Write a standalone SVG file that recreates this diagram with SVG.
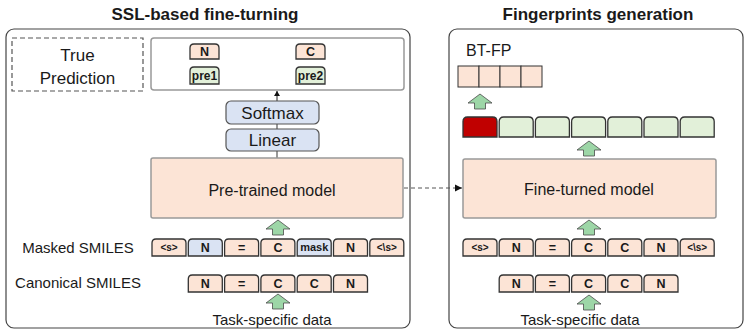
<svg xmlns="http://www.w3.org/2000/svg" width="745" height="331" viewBox="0 0 745 331">
<style>
text{font-family:"Liberation Sans",Arial,sans-serif;fill:#1a1a1a}
.title{font-size:17px;font-weight:bold;text-anchor:middle}
.lbl{font-size:15px;text-anchor:middle}
.big{font-size:17px;text-anchor:middle}
.mdl{font-size:16px;text-anchor:middle}
.tk{font-size:12.5px;font-weight:bold;text-anchor:middle}
.tks{font-size:10px;font-weight:bold;text-anchor:middle}
.outer{fill:#fff;stroke:#444;stroke-width:1.2}
.gbox{fill:#fff;stroke:#999;stroke-width:1.5}
.model{fill:#fce4d6;stroke:#999;stroke-width:1.5}
.blue{fill:#dae3f3;stroke:#555;stroke-width:1.2}
.tok{stroke:#333;stroke-width:1.3}
.pe{fill:#fce4d6}
.bl{fill:#dae3f3}
.gr{fill:#e2f0d9}
.rd{fill:#c00000}
.garrow{fill:#9dd6a7;stroke:#4a4a4a;stroke-width:0.8}
</style>
<defs>
<path id="t34" d="M0,17 V4 Q0,0 4,0 H30 Q34,0 34,4 V17 Z"/>
<path id="t34h" d="M0,20 V4.5 Q0,0 4.5,0 H29.5 Q34,0 34,4.5 V20 Z"/>
<path id="ga" d="M0,0 L12,9 L5.5,9 L5.5,15 L-5.5,15 L-5.5,9 L-12,9 Z"/>
<marker id="ah" markerWidth="8" markerHeight="8" refX="7" refY="4" orient="auto" markerUnits="userSpaceOnUse">
<path d="M0,0.5 L7,4 L0,7.5 Z" fill="#111"/>
</marker>
<marker id="ahs" markerWidth="6" markerHeight="6" refX="5" refY="3" orient="auto" markerUnits="userSpaceOnUse">
<path d="M0,0 L5,3 L0,6 Z" fill="#111"/>
</marker>
</defs>

<text class="title" x="205" y="20">SSL-based fine-turning</text>
<text class="title" x="598" y="20">Fingerprints generation</text>

<g id="left-panel">
<rect class="outer" x="6" y="29" width="404" height="299" rx="8"/>
</g>
<g id="right-panel">
<rect class="outer" x="449" y="29" width="294" height="299" rx="8"/>
</g>

<g id="connectors">
<line x1="277" y1="101" x2="277" y2="91" stroke="#222" stroke-width="1" marker-end="url(#ahs)"/>
<line x1="277" y1="124" x2="277" y2="129" stroke="#555" stroke-width="1.2"/>
<line x1="277" y1="151" x2="277" y2="158" stroke="#555" stroke-width="1.2"/>
<line x1="404" y1="188" x2="462" y2="188" stroke="#555" stroke-width="1" stroke-dasharray="4,3" marker-end="url(#ah)"/>
<use href="#ga" class="garrow" x="278" y="220"/>
<use href="#ga" class="garrow" x="278" y="294"/>
<use href="#ga" class="garrow" x="480" y="94"/>
<use href="#ga" class="garrow" x="589" y="141"/>
<use href="#ga" class="garrow" x="589" y="220"/>
<use href="#ga" class="garrow" x="589" y="295"/>
</g>

<g id="true-prediction">
<rect x="12" y="38" width="131" height="53" fill="none" stroke="#555" stroke-width="1.2" stroke-dasharray="5,3"/>
<text class="big" x="77.5" y="61">True</text>
<text class="big" x="77.5" y="84">Prediction</text>
</g>

<g id="output-box">
<rect class="gbox" x="151" y="38" width="253" height="52" rx="3"/>
<path class="tok pe" d="M190,59 V48 Q190,44 194,44 H215 Q219,44 219,48 V59 Z"/>
<text class="tk" x="204.5" y="56">N</text>
<path class="tok gr" d="M190,84 V71 Q190,67 194,67 H215 Q219,67 219,71 V84 Z"/>
<text class="tk" x="204.5" y="80" style="font-size:12px">pre1</text>
<path class="tok pe" d="M296,59 V48 Q296,44 300,44 H321 Q325,44 325,48 V59 Z"/>
<text class="tk" x="310.5" y="56">C</text>
<path class="tok gr" d="M296,84 V71 Q296,67 300,67 H321 Q325,67 325,71 V84 Z"/>
<text class="tk" x="310.5" y="80" style="font-size:12px">pre2</text>
</g>

<g id="softmax">
<rect class="blue" x="226" y="101" width="93" height="23" rx="5"/>
<text class="big" x="272.5" y="119">Softmax</text>
</g>
<g id="linear">
<rect class="blue" x="226" y="129" width="93" height="22" rx="5"/>
<text class="big" x="272.5" y="146">Linear</text>
</g>

<g id="pretrained-model">
<rect class="model" x="151" y="158" width="252" height="60" rx="2"/>
<text class="mdl" x="272" y="196">Pre-trained model</text>
</g>

<g id="masked-smiles-left">
<text class="lbl" x="78" y="253">Masked SMILES</text>
<use href="#t34" class="tok pe" x="152" y="239"/>
<text class="tks" x="169" y="251">&lt;s&gt;</text>
<use href="#t34" class="tok bl" x="188.3" y="239"/>
<text class="tk" x="205.3" y="252">N</text>
<use href="#t34" class="tok pe" x="224.6" y="239"/>
<text class="tk" x="241.6" y="252">=</text>
<use href="#t34" class="tok pe" x="260.9" y="239"/>
<text class="tk" x="277.9" y="252">C</text>
<use href="#t34" class="tok bl" x="297.2" y="239"/>
<text class="tks" x="314.2" y="251" style="font-size:11px">mask</text>
<use href="#t34" class="tok pe" x="333.5" y="239"/>
<text class="tk" x="350.5" y="252">N</text>
<use href="#t34" class="tok pe" x="369.8" y="239"/>
<text class="tks" x="386.8" y="251">&lt;\s&gt;</text>
</g>

<g id="canonical-smiles-left">
<text class="lbl" x="78" y="288">Canonical SMILES</text>
<use href="#t34" class="tok pe" x="188.3" y="275"/>
<text class="tk" x="205.3" y="288">N</text>
<use href="#t34" class="tok pe" x="224.6" y="275"/>
<text class="tk" x="241.6" y="288">=</text>
<use href="#t34" class="tok pe" x="260.9" y="275"/>
<text class="tk" x="277.9" y="288">C</text>
<use href="#t34" class="tok pe" x="297.2" y="275"/>
<text class="tk" x="314.2" y="288">C</text>
<use href="#t34" class="tok pe" x="333.5" y="275"/>
<text class="tk" x="350.5" y="288">N</text>
</g>

<g id="task-data-left">
<text class="lbl" x="272" y="325">Task-specific data</text>
</g>

<g id="bt-fp">
<text class="mdl" x="466" y="56" style="text-anchor:start">BT-FP</text>
<rect x="458" y="66" width="21" height="21" fill="#fce4d6" stroke="#333" stroke-width="1"/>
<rect x="479" y="66" width="21" height="21" fill="#fce4d6" stroke="#333" stroke-width="1"/>
<rect x="500" y="66" width="21" height="21" fill="#fce4d6" stroke="#333" stroke-width="1"/>
<rect x="521" y="66" width="21" height="21" fill="#fce4d6" stroke="#333" stroke-width="1"/>
</g>

<g id="embeddings">
<use href="#t34h" class="tok rd" x="463" y="117"/>
<use href="#t34h" class="tok gr" x="499.2" y="117"/>
<use href="#t34h" class="tok gr" x="535.4" y="117"/>
<use href="#t34h" class="tok gr" x="571.6" y="117"/>
<use href="#t34h" class="tok gr" x="607.8" y="117"/>
<use href="#t34h" class="tok gr" x="644" y="117"/>
<use href="#t34h" class="tok gr" x="680.2" y="117"/>
</g>

<g id="finetuned-model">
<rect class="model" x="463" y="159" width="253" height="59" rx="2"/>
<text class="mdl" x="589" y="195">Fine-turned model</text>
</g>

<g id="smiles-right">
<use href="#t34" class="tok pe" x="463" y="239"/>
<text class="tks" x="480" y="251">&lt;s&gt;</text>
<use href="#t34" class="tok pe" x="499.2" y="239"/>
<text class="tk" x="516.2" y="252">N</text>
<use href="#t34" class="tok pe" x="535.4" y="239"/>
<text class="tk" x="552.4" y="252">=</text>
<use href="#t34" class="tok pe" x="571.6" y="239"/>
<text class="tk" x="588.6" y="252">C</text>
<use href="#t34" class="tok pe" x="607.8" y="239"/>
<text class="tk" x="624.8" y="252">C</text>
<use href="#t34" class="tok pe" x="644" y="239"/>
<text class="tk" x="661" y="252">N</text>
<use href="#t34" class="tok pe" x="680.2" y="239"/>
<text class="tks" x="697.2" y="251">&lt;\s&gt;</text>
</g>

<g id="canonical-smiles-right">
<use href="#t34" class="tok pe" x="499.2" y="275"/>
<text class="tk" x="516.2" y="288">N</text>
<use href="#t34" class="tok pe" x="535.4" y="275"/>
<text class="tk" x="552.4" y="288">=</text>
<use href="#t34" class="tok pe" x="571.6" y="275"/>
<text class="tk" x="588.6" y="288">C</text>
<use href="#t34" class="tok pe" x="607.8" y="275"/>
<text class="tk" x="624.8" y="288">C</text>
<use href="#t34" class="tok pe" x="644" y="275"/>
<text class="tk" x="661" y="288">N</text>
</g>

<g id="task-data-right">
<text class="lbl" x="580" y="325">Task-specific data</text>
</g>
</svg>
